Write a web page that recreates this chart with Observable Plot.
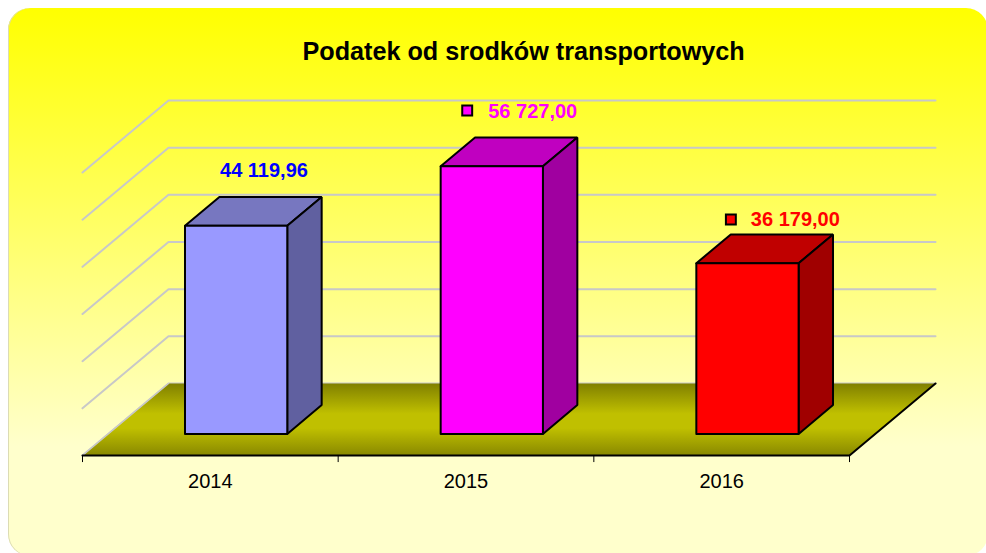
<!DOCTYPE html>
<html lang="pl">
<head>
<meta charset="utf-8">
<script src="https://cdn.jsdelivr.net/npm/d3@7"></script>
<script src="https://cdn.jsdelivr.net/npm/@observablehq/plot@0.6"></script>
<style>
html,body{margin:0;padding:0;background:#fff;overflow:hidden;width:986px;height:553px}
#panel{position:absolute;left:8px;top:8px;width:980px;height:548px;border-radius:22px;
  background:linear-gradient(to bottom,#ffff00 0%,#ffffcc 80%,#ffffcc 100%);box-shadow:inset 1px 0 0 #dcdcb4}
#chart{position:absolute;left:0;top:0}
</style>
</head>
<body>
<div id="panel"></div>
<div id="chart"></div>
<script>
const title = "Podatek od srodków transportowych";
const years = ["2014", "2015", "2016"];
const values = [44119.96, 56727.00, 36179.00];
const valueLabels = ["44 119,96", "56 727,00", "36 179,00"];
const frontColors = ["#9999ff", "#ff00ff", "#ff0000"];
const topColors = ["#7777c0", "#c000c0", "#c00000"];
const sideColors = ["#6060a0", "#a000a0", "#a00000"];
const labelColors = ["#0000ff", "#ff00ff", "#ff0000"];
const gridValues = [0, 10000, 20000, 30000, 40000, 50000, 60000];
const categoryEdges = [0, 1, 2, 3];

// Oblique projection: depth d runs from 0 (front of the floor) to 1 (back wall).
const depthX = 0.3364;   // category units
const depthY = 15264;    // value units
const P = (cat, v, d) => ({x: cat + d * depthX, y: v - (1 - d) * depthY});
const barHalf = 0.2, barFront = 0.3, barBack = 0.70;

const poly = (pts, o) => Plot.line([...pts, pts[0]], {x: "x", y: "y", strokeLinejoin: "miter", ...o});

const gridLines = gridValues.map(v =>
  Plot.line([P(0, v, 0), P(0, v, 1), P(3, v, 1)], {x: "x", y: "y", stroke: "#c8c8c8", strokeWidth: 2})
);

const floor = poly([P(0, 0, 0), P(0, 0, 1), P(3, 0, 1), P(3, 0, 0)], {fill: "url(#floorGrad)", stroke: "none"});
const frontEdge = Plot.line([P(0, 0, 0), P(3, 0, 0), P(3, 0, 1)], {x: "x", y: "y", stroke: "#000", strokeWidth: 2});
const leftEdge = Plot.line([P(0, 0, 0), P(0, 0, 1)], {x: "x", y: "y", stroke: "#c8c8c8", strokeWidth: 1.5});

const bars = values.flatMap((v, i) => {
  const l = i + 0.5 - barHalf, r = i + 0.5 + barHalf;
  const style = {stroke: "#000", strokeWidth: 2};
  return [
    poly([P(l, v, barFront), P(l, v, barBack), P(r, v, barBack), P(r, v, barFront)], {fill: topColors[i], ...style}),
    poly([P(r, 0, barFront), P(r, 0, barBack), P(r, v, barBack), P(r, v, barFront)], {fill: sideColors[i], ...style}),
    poly([P(l, 0, barFront), P(r, 0, barFront), P(r, v, barFront), P(l, v, barFront)], {fill: frontColors[i], ...style})
  ];
});

const labelFont = {fontFamily: "Liberation Sans, Arial, sans-serif", fontWeight: "bold", fontSize: 20};
const valueText = (i, dx, dy) => Plot.text([P(i + 0.5, values[i], barBack)], {
  x: "x", y: "y", text: () => valueLabels[i], fill: labelColors[i], textAnchor: "start", dx, dy, ...labelFont
});
const marker = (i, dx, dy) => Plot.dot([P(i + 0.5, values[i], barBack)], {
  x: "x", y: "y", symbol: "square", r: 5.6, fill: frontColors[i], stroke: "#000", strokeWidth: 2, dx, dy
});

const plot = Plot.plot({
  width: 986,
  height: 553,
  margin: 0,
  style: {background: "transparent", overflow: "visible"},
  x: {domain: [0, 3], range: [82, 849], axis: null},
  y: {domain: [0, 60000], range: [383, 100], axis: null},
  marks: [
    () => {
      const defs = d3.create("svg:defs");
      const g = defs.append("linearGradient").attr("id", "floorGrad").attr("x1", 0).attr("y1", 0).attr("x2", 0).attr("y2", 1);
      g.append("stop").attr("offset", "0%").attr("stop-color", "#808000");
      g.append("stop").attr("offset", "42%").attr("stop-color", "#c0c000");
      g.append("stop").attr("offset", "62%").attr("stop-color", "#c0c000");
      g.append("stop").attr("offset", "100%").attr("stop-color", "#888800");
      return defs.node();
    },
    ...gridLines,
    floor,
    leftEdge,
    frontEdge,
    Plot.ruleX(categoryEdges, {x: d => d, y1: -depthY, y2: -depthY - 1500, stroke: "#000", strokeWidth: 1}),
    ...bars,
    Plot.text(years, {
      x: (d, i) => i + 0.5, y: -depthY, dy: 26, text: d => d, fill: "#000",
      fontFamily: "Liberation Sans, Arial, sans-serif", fontSize: 20
    }),
    valueText(0, -50.5, -26.5),
    marker(1, -59, -27), valueText(1, -38, -26),
    marker(2, -51, -15), valueText(2, -31, -15),
    Plot.text([title], {
      frameAnchor: "top-left", dx: 302, dy: 42, text: d => d, textAnchor: "start", fill: "#000",
      fontFamily: "Liberation Sans, Arial, sans-serif", fontWeight: "bold", fontSize: 25.2
    })
  ]
});
document.getElementById("chart").append(plot);
</script>
</body>
</html>
